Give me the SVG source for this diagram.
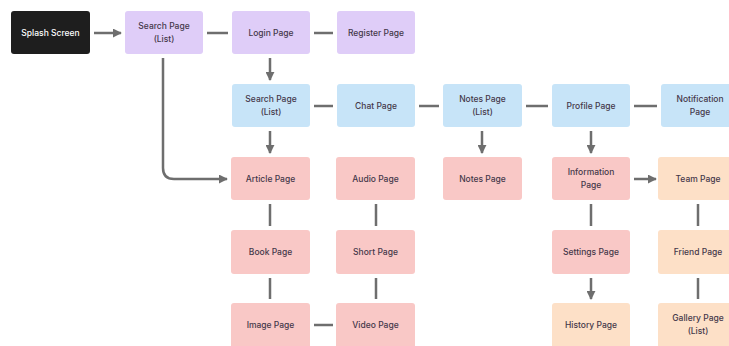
<svg xmlns="http://www.w3.org/2000/svg" width="729" height="346" viewBox="0 0 729 346">
<defs>
<marker id="ah" viewBox="0 0 10 10" refX="9" refY="5" markerWidth="3.6" markerHeight="3.6" orient="auto" markerUnits="strokeWidth">
<path d="M0,0 L10,5 L0,10 z" fill="#6e6e6e"/>
</marker>
<style>
.n rect{rx:3;ry:3}
.k rect{fill:#1e1e1e}
.p rect{fill:#dfcdf8}
.b rect{fill:#c7e4f8}
.r rect{fill:#f9c8c6}
.o rect{fill:#fde0c7}
text{font-family:Inter,"Liberation Sans",sans-serif;font-size:8.5px;font-weight:500;text-anchor:middle;fill:#45384a}
.k text{fill:#ffffff}
.c path{fill:none;stroke:#6e6e6e;stroke-width:2.5}
.a{marker-end:url(#ah)}
</style>
</defs>
<rect width="729" height="346" fill="#ffffff"/>
<g class="c">
<path class="a" d="M94,33 H121"/>
<path d="M207,33 H228"/>
<path d="M314,33 H333"/>
<path class="a" d="M270,58 V80"/>
<path class="a" d="M163,58 V168 Q163,179 174,179 H227"/>
<path class="a" d="M270,131 V153"/>
<path d="M314,106 H333"/>
<path d="M419,106 H439"/>
<path d="M526,106 H548"/>
<path d="M634,106 H657"/>
<path class="a" d="M482,131 V153"/>
<path class="a" d="M591,131 V153"/>
<path class="a" d="M634,179 H656"/>
<path d="M270,204 V226"/>
<path d="M376,204 V226"/>
<path d="M270,278 V299"/>
<path d="M376,278 V299"/>
<path d="M314,325 H333"/>
<path d="M591,204 V226"/>
<path class="a" d="M591,278 V299"/>
<path d="M698,204 V226"/>
<path d="M698,278 V299"/>
</g>
<g id="splash" class="n k"><rect x="11" y="11" width="79" height="43"/><text x="50.5" y="36">Splash Screen</text></g>
<g id="search1" class="n p"><rect x="125" y="11" width="78" height="43"/><text x="164" y="29">Search Page</text><text x="164" y="42">(List)</text></g>
<g id="login" class="n p"><rect x="232" y="11" width="78" height="43"/><text x="271" y="36">Login Page</text></g>
<g id="register" class="n p"><rect x="337" y="11" width="78" height="43"/><text x="376" y="36">Register Page</text></g>
<g id="search2" class="n b"><rect x="232" y="84" width="78" height="43"/><text x="271" y="102">Search Page</text><text x="271" y="115">(List)</text></g>
<g id="chat" class="n b"><rect x="337" y="84" width="78" height="43"/><text x="376" y="109">Chat Page</text></g>
<g id="noteslist" class="n b"><rect x="443" y="84" width="79" height="43"/><text x="482.5" y="102">Notes Page</text><text x="482.5" y="115">(List)</text></g>
<g id="profile" class="n b"><rect x="552" y="84" width="78" height="43"/><text x="591" y="109">Profile Page</text></g>
<g id="notification" class="n b"><rect x="661" y="84" width="78" height="43"/><text x="700" y="102">Notification</text><text x="700" y="115">Page</text></g>
<g id="article" class="n r"><rect x="231" y="157" width="79" height="43"/><text x="270.5" y="182">Article Page</text></g>
<g id="audio" class="n r"><rect x="336" y="157" width="79" height="43"/><text x="375.5" y="182">Audio Page</text></g>
<g id="notes" class="n r"><rect x="443" y="157" width="79" height="43"/><text x="482.5" y="182">Notes Page</text></g>
<g id="information" class="n r"><rect x="552" y="157" width="78" height="43"/><text x="591" y="175">Information</text><text x="591" y="188">Page</text></g>
<g id="team" class="n o"><rect x="658" y="157" width="81" height="43"/><text x="698" y="182">Team Page</text></g>
<g id="book" class="n r"><rect x="231" y="230" width="79" height="44"/><text x="270.5" y="255">Book Page</text></g>
<g id="short" class="n r"><rect x="336" y="230" width="79" height="44"/><text x="375.5" y="255">Short Page</text></g>
<g id="settings" class="n r"><rect x="552" y="230" width="78" height="44"/><text x="591" y="255">Settings Page</text></g>
<g id="friend" class="n o"><rect x="658" y="230" width="81" height="44"/><text x="698" y="255">Friend Page</text></g>
<g id="image" class="n r"><rect x="231" y="303" width="79" height="47"/><text x="270.5" y="328">Image Page</text></g>
<g id="video" class="n r"><rect x="336" y="303" width="79" height="47"/><text x="375.5" y="328">Video Page</text></g>
<g id="history" class="n o"><rect x="552" y="303" width="78" height="47"/><text x="591" y="328">History Page</text></g>
<g id="gallery" class="n o"><rect x="658" y="303" width="81" height="47"/><text x="698" y="321">Gallery Page</text><text x="698" y="334">(List)</text></g>
</svg>
